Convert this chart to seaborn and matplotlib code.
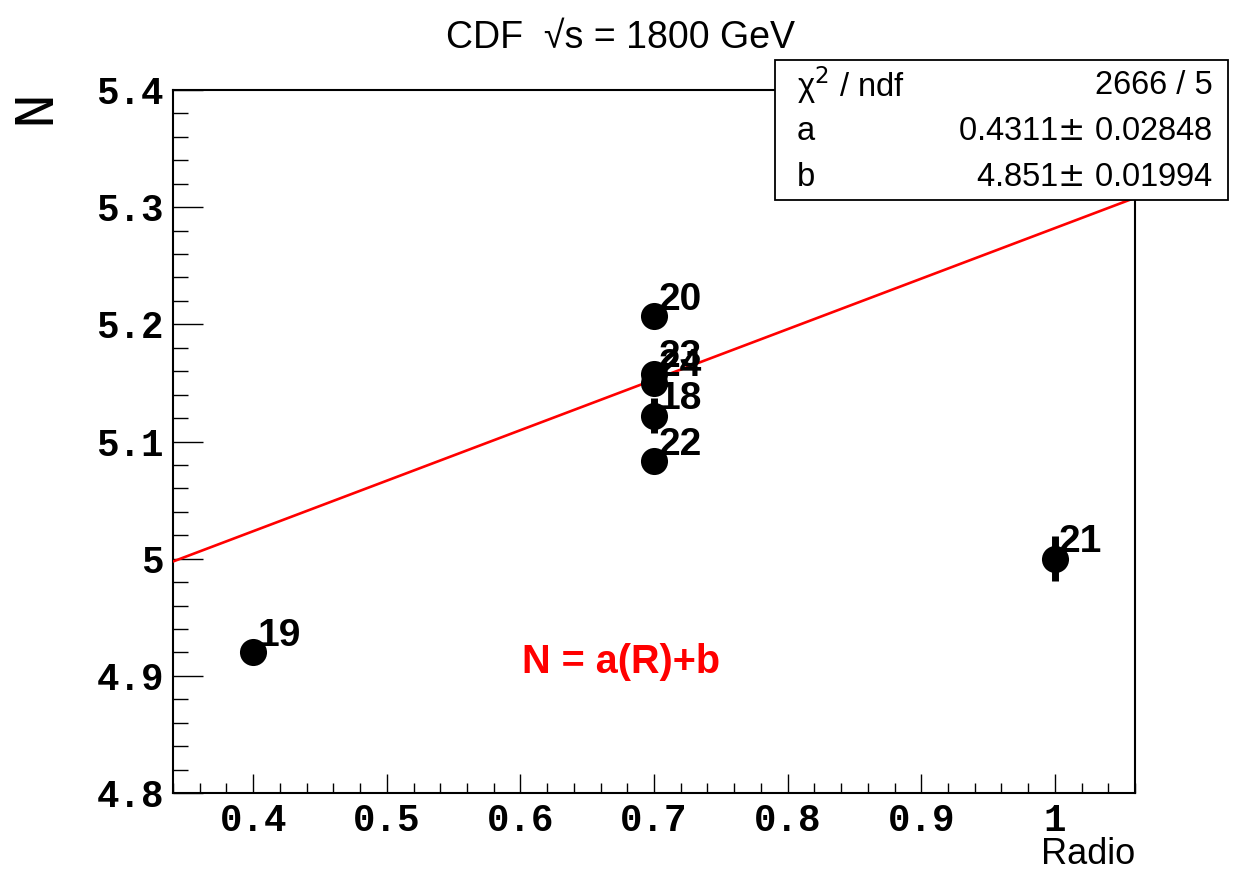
import matplotlib
matplotlib.use("Agg")
import matplotlib.pyplot as plt
import seaborn as sns
import numpy as np
import pandas as pd
from matplotlib.ticker import MultipleLocator

# ---- data ----
labels = ["19", "20", "23", "24", "18", "22", "21"]
radio = [0.4, 0.7, 0.7, 0.7, 0.7, 0.7, 1.0]
n_vals = [4.920, 5.207, 5.158, 5.150, 5.122, 5.083, 5.000]
n_err = [0.008, 0.008, 0.008, 0.008, 0.015, 0.008, 0.019]
fit_a = 0.4311
fit_a_err = 0.02848
fit_b = 4.851
fit_b_err = 0.01994
chi2_text = "2666 / 5"
x_ticks = [0.4, 0.5, 0.6, 0.7, 0.8, 0.9, 1.0]
x_ticklabels = ["0.4", "0.5", "0.6", "0.7", "0.8", "0.9", "1"]
y_ticks = [4.8, 4.9, 5.0, 5.1, 5.2, 5.3, 5.4]
y_ticklabels = ["4.8", "4.9", "5", "5.1", "5.2", "5.3", "5.4"]
x_range = [0.34, 1.06]
y_range = [4.8, 5.4]

df = pd.DataFrame({"Radio": radio, "N": n_vals, "err": n_err, "label": labels})

sns.set_theme(style="white")
plt.rcParams["font.family"] = ["Liberation Sans", "DejaVu Sans"]
plt.rcParams["text.color"] = "black"

fig = plt.figure(figsize=(12.4, 8.72), dpi=100)
ax = fig.add_axes([173/1240, 1-793/872, (1135-173)/1240, (793-90)/872])

# fit line
fx = np.linspace(x_range[0], x_range[1], 50)
fit_df = pd.DataFrame({"Radio": fx, "N": fit_a*fx + fit_b})
sns.lineplot(data=fit_df, x="Radio", y="N", color="#ff0000", linewidth=1.9, ax=ax, zorder=3)

# error bars
ax.errorbar(df["Radio"], df["N"], yerr=df["err"], fmt="none", ecolor="black",
            elinewidth=5, capsize=0, zorder=4)
# points
sns.scatterplot(data=df, x="Radio", y="N", color="black", s=380, edgecolor="black",
                linewidth=0, ax=ax, zorder=5, legend=False)

for _, r in df.iterrows():
    ax.annotate(r["label"], (r["Radio"], r["N"]), xytext=(3, -1), textcoords="offset points",
                ha="left", va="bottom", fontsize=28, fontweight="bold", color="black",
                family="Liberation Sans", zorder=6)

ax.text(0.675, 4.912, "N = a(R)+b", color="#ff0000", fontsize=28.5, fontweight="bold",
        ha="center", va="center", family="Liberation Sans")

ax.set_xlim(*x_range)
ax.set_ylim(*y_range)
ax.set_xticks(x_ticks)
ax.set_xticklabels(x_ticklabels)
ax.set_yticks(y_ticks)
ax.set_yticklabels(y_ticklabels)
ax.xaxis.set_minor_locator(MultipleLocator(0.02))
ax.yaxis.set_minor_locator(MultipleLocator(0.02))
ax.tick_params(axis="x", which="major", direction="in", length=14, width=1.0,
               bottom=True, top=False, pad=7, colors="black")
ax.tick_params(axis="x", which="minor", direction="in", length=7, width=1.0,
               bottom=True, top=False, colors="black")
ax.tick_params(axis="y", which="major", direction="in", length=21.5, width=1.0,
               left=True, right=False, pad=6.5, colors="black")
ax.tick_params(axis="y", which="minor", direction="in", length=10.5, width=1.0,
               left=True, right=False, colors="black")
for lab in ax.get_xticklabels() + ax.get_yticklabels():
    lab.set_family("Liberation Mono")
    lab.set_fontweight("bold")
    lab.set_fontsize(27)
    lab.set_color("black")
for sp in ax.spines.values():
    sp.set_color("black")
    sp.set_linewidth(1.5)
ax.set_xlabel("")
ax.set_ylabel("")

fig.text(621/1240, 1-38/872, "CDF  √s = 1800 GeV", ha="center", va="center",
         fontsize=27, family="Liberation Sans", color="black")
fig.text(1135/1240, 1-854/872, "Radio", ha="right", va="center", fontsize=26,
         family="Liberation Sans", color="black")
fig.text(34/1240, 1-106/872, "N", ha="center", va="center", rotation=90,
         fontsize=42, family="Liberation Mono", color="black")

# stats box
bx0, by0, bx1, by1 = 775/1240, 1-200/872, 1228/1240, 1-60/872
box = plt.Rectangle((bx0, by0), bx1-bx0, by1-by0, transform=fig.transFigure,
                    facecolor="white", edgecolor="black", linewidth=1.3, zorder=10)
fig.patches.append(box)
rows = [("χ$^2$ / ndf", chi2_text),
        ("a", f"{fit_a:.4f}$\\pm$ {fit_a_err:.5f}"),
        ("b", f"{fit_b:.3f}$\\pm$ {fit_b_err:.5f}")]
row_y = [85, 131, 177]
for (l, v), yy in zip(rows, row_y):
    fig.text(797/1240, 1-yy/872, l, ha="left", va="center", fontsize=23.5,
             family="Liberation Sans", color="black", zorder=11)
    fig.text(1213/1240, 1-yy/872, v, ha="right", va="center", fontsize=23.5,
             family="Liberation Sans", color="black", zorder=11)

fig.savefig("out.png", dpi=100, facecolor="white")
